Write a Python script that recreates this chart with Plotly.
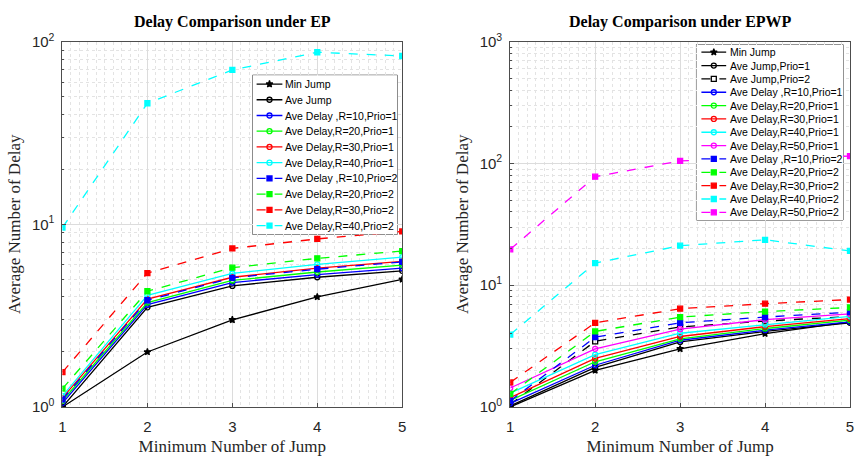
import plotly.graph_objects as go

x_jump = [1, 2, 3, 4, 5]

# ---- Left: Delay Comparison under EP ----
ep_min_jump = [1.0, 2.0, 3.0, 4.0, 5.0]
ep_ave_jump = [1.0, 3.51, 4.60, 5.13, 5.56]
ep_r10_p1 = [1.05, 3.63, 4.80, 5.30, 5.75]
ep_r20_p1 = [1.08, 3.73, 4.93, 5.48, 5.98]
ep_r30_p1 = [1.12, 3.89, 5.13, 5.75, 6.26]
ep_r40_p1 = [1.15, 4.08, 5.38, 6.03, 6.61]
ep_r10_p2 = [1.10, 3.84, 5.09, 5.68, 6.22]
ep_r20_p2 = [1.26, 4.30, 5.79, 6.51, 7.14]
ep_r30_p2 = [1.55, 5.41, 7.38, 8.32, 9.14]
ep_r40_p2 = [9.6, 46.0, 70.0, 87.5, 83.5]

# ---- Right: Delay Comparison under EPWP ----
epwp_min_jump = [1.0, 2.0, 3.0, 4.0, 5.0]
epwp_ave_jump_p1 = [1.02, 2.11, 3.42, 4.17, 4.91]
epwp_ave_jump_p2 = [1.05, 3.46, 4.54, 5.07, 5.54]
epwp_r10_p1 = [1.07, 2.20, 3.53, 4.27, 5.00]
epwp_r20_p1 = [1.13, 2.35, 3.63, 4.41, 5.16]
epwp_r30_p1 = [1.19, 2.50, 3.79, 4.57, 5.31]
epwp_r40_p1 = [1.30, 2.69, 4.03, 4.76, 5.55]
epwp_r50_p1 = [1.43, 3.00, 4.35, 5.21, 5.81]
epwp_r10_p2 = [1.12, 3.74, 4.91, 5.47, 6.00]
epwp_r20_p2 = [1.28, 4.17, 5.47, 6.07, 6.56]
epwp_r30_p2 = [1.59, 4.91, 6.41, 7.05, 7.62]
epwp_r40_p2 = [3.93, 15.2, 21.1, 23.6, 19.1]
epwp_r50_p2 = [19.7, 77.8, 105.0, 110.0, 115.0]

left_ticks = [1, 10, 100]
left_ticktext = ["10<sup>0</sup>", "10<sup>1</sup>", "10<sup>2</sup>"]
right_ticks = [1, 10, 100, 1000]
right_ticktext = ["10<sup>0</sup>", "10<sup>1</sup>", "10<sup>2</sup>", "10<sup>3</sup>"]

BLUE, GREEN, RED, CYAN, MAG, BLACK = "#0000FF", "#00FF00", "#FF0000", "#00FFFF", "#FF00FF", "#000000"

left = [
    (ep_min_jump, "Min Jump", BLACK, "solid", "star", 5),
    (ep_ave_jump, "Ave Jump", BLACK, "solid", "circle-open", 5),
    (ep_r10_p1, "Ave Delay ,R=10,Prio=1", BLUE, "solid", "circle-open", 5),
    (ep_r20_p1, "Ave Delay,R=20,Prio=1", GREEN, "solid", "circle-open", 5),
    (ep_r30_p1, "Ave Delay,R=30,Prio=1", RED, "solid", "circle-open", 5),
    (ep_r40_p1, "Ave Delay,R=40,Prio=1", CYAN, "solid", "circle-open", 5),
    (ep_r10_p2, "Ave Delay ,R=10,Prio=2", BLUE, "dash", "square", 5),
    (ep_r20_p2, "Ave Delay,R=20,Prio=2", GREEN, "dash", "square", 5),
    (ep_r30_p2, "Ave Delay,R=30,Prio=2", RED, "dash", "square", 5),
    (ep_r40_p2, "Ave Delay,R=40,Prio=2", CYAN, "dash", "square", 5),
]
right = [
    (epwp_min_jump, "Min Jump", BLACK, "solid", "star", 5),
    (epwp_ave_jump_p1, "Ave Jump,Prio=1", BLACK, "solid", "circle-open", 5),
    (epwp_ave_jump_p2, "Ave Jump,Prio=2", BLACK, "dash", "square-open", 5),
    (epwp_r10_p1, "Ave Delay ,R=10,Prio=1", BLUE, "solid", "circle-open", 5),
    (epwp_r20_p1, "Ave Delay,R=20,Prio=1", GREEN, "solid", "circle-open", 5),
    (epwp_r30_p1, "Ave Delay,R=30,Prio=1", RED, "solid", "circle-open", 5),
    (epwp_r40_p1, "Ave Delay,R=40,Prio=1", CYAN, "solid", "circle-open", 5),
    (epwp_r50_p1, "Ave Delay,R=50,Prio=1", MAG, "solid", "circle-open", 5),
    (epwp_r10_p2, "Ave Delay ,R=10,Prio=2", BLUE, "dash", "square", 5),
    (epwp_r20_p2, "Ave Delay,R=20,Prio=2", GREEN, "dash", "square", 5),
    (epwp_r30_p2, "Ave Delay,R=30,Prio=2", RED, "dash", "square", 5),
    (epwp_r40_p2, "Ave Delay,R=40,Prio=2", CYAN, "dash", "square", 5),
    (epwp_r50_p2, "Ave Delay,R=50,Prio=2", MAG, "dash", "square", 5),
]

W, H = 855, 460
serif = "Liberation Serif, Times New Roman, serif"
sans = "Liberation Sans, Arial, sans-serif"
AXC = "#4d4d4d"
GRID = "#dcdcdc"
MGRID = "#e3e3e3"
LW = 1.3

fig = go.Figure()

# data traces
for series, xa, ya in [(left, "x", "y"), (right, "x2", "y2")]:
    for y, n, c, d, s, sz in series:
        fig.add_trace(go.Scatter(
            x=x_jump, y=y, name=n, mode="lines+markers", showlegend=False,
            line=dict(color=c, width=LW, dash=d),
            marker=dict(symbol=s, size=sz, color=c, line=dict(color=c, width=LW)),
            xaxis=xa, yaxis=ya))

# legend boxes (MATLAB-style compact legends) drawn on overlay axes
# box geometry in pixels: left, top, right, bottom
legend_boxes = {"x3": (251, 67, 397, 233), "x4": (699, 35, 847, 218)}
annotations = []
shapes = []
for series, (xa, ya), key in [(left, ("x3", "y3"), "x3"), (right, ("x4", "y4"), "x4")]:
    l, t, r, b = legend_boxes[key]
    bw, bh = r - l, b - t
    n = len(series)
    row = (bh - 2) / n
    x0s, xm, x1s, xt = (4, 17, 30, 31) if key == "x3" else (5, 17.5, 30, 32)
    shapes.append(dict(type="rect", xref=f"{xa} domain", yref=f"{ya} domain",
                       x0=0, x1=1, y0=0, y1=1, layer="below",
                       fillcolor="white", line=dict(color="#333333", width=1)))
    for i, (y, nme, c, d, s, sz) in enumerate(series):
        yc = 1 + (i + 0.5) * row
        fig.add_trace(go.Scatter(
            x=[x0s, xm, x1s], y=[yc, yc, yc], mode="lines+markers", showlegend=False,
            hoverinfo="skip",
            line=dict(color=c, width=LW, dash=d),
            marker=dict(symbol=s, size=[0, sz, 0], opacity=[0, 1, 0], color=c,
                        line=dict(color=c, width=LW)),
            xaxis=xa, yaxis=ya))
        annotations.append(dict(text=nme, x=xt, y=yc, xref=xa, yref=ya,
                                xanchor="left", yanchor="middle", showarrow=False,
                                font=dict(family=sans, size=10.5, color="#000000")))

def xaxis(dom, anchor):
    return dict(domain=dom, anchor=anchor, range=[1, 5], dtick=1,
                showline=True, mirror=True, linecolor=AXC, linewidth=1,
                ticks="inside", ticklen=4, tickcolor=AXC, ticklabelstandoff=6,
                showgrid=True, gridcolor=GRID, zeroline=False,
                minor=dict(dtick=0.1, showgrid=True, gridcolor=MGRID, griddash="dot", ticks=""),
                tickfont=dict(family=sans, size=15, color="#262626"),
                title=dict(text="Minimum Number of Jump", font=dict(family=serif, size=17, color="#262626"), standoff=6))

def yaxis(dom, anchor, rng, tv, tt):
    return dict(domain=dom, anchor=anchor, type="log", range=rng,
                tickmode="array", tickvals=tv, ticktext=tt,
                showline=True, mirror=True, linecolor=AXC, linewidth=1,
                ticks="inside", ticklen=4, tickcolor=AXC, ticklabelstandoff=4,
                showgrid=True, gridcolor=GRID, zeroline=False,
                minor=dict(dtick="D1", showgrid=True, gridcolor=MGRID, griddash="dot",
                           ticks="inside", ticklen=2, tickcolor=AXC),
                tickfont=dict(family=sans, size=15, color="#262626"),
                title=dict(text="Average Number of Delay", font=dict(family=serif, size=17, color="#262626"), standoff=6))

def hidden(dom, anchor, rng):
    return dict(domain=dom, anchor=anchor, range=rng, visible=False, fixedrange=True)

ydom = [1 - 413 / H, 1 - 32 / H]
l3, t3, r3, b3 = legend_boxes["x3"]
l4, t4, r4, b4 = legend_boxes["x4"]

annotations += [
    dict(text="<b>Delay Comparison under EP</b>", x=(59 + 402) / 2 / W, y=1 - 11 / H,
         xref="paper", yref="paper", xanchor="center", yanchor="middle", showarrow=False,
         font=dict(family=serif, size=16, color="#000000")),
    dict(text="<b>Delay Comparison under EPWP</b>", x=(511 + 854) / 2 / W, y=1 - 11 / H,
         xref="paper", yref="paper", xanchor="center", yanchor="middle", showarrow=False,
         font=dict(family=serif, size=16, color="#000000")),
]

fig.update_layout(
    width=W, height=H, margin=dict(l=0, r=0, t=0, b=0),
    paper_bgcolor="white", plot_bgcolor="white",
    xaxis=xaxis([59 / W, 402 / W], "y"),
    yaxis=yaxis(ydom, "x", [0, 2], left_ticks, left_ticktext),
    xaxis2=xaxis([511 / W, 854 / W], "y2"),
    yaxis2=yaxis(ydom, "x2", [0, 3], right_ticks, right_ticktext),
    xaxis3=hidden([l3 / W, r3 / W], "y3", [0, r3 - l3]),
    yaxis3=hidden([1 - b3 / H, 1 - t3 / H], "x3", [b3 - t3, 0]),
    xaxis4=hidden([l4 / W, r4 / W], "y4", [0, r4 - l4]),
    yaxis4=hidden([1 - b4 / H, 1 - t4 / H], "x4", [b4 - t4, 0]),
    annotations=annotations,
    shapes=shapes,
    showlegend=False,
)

fig.write_html("out.html")
